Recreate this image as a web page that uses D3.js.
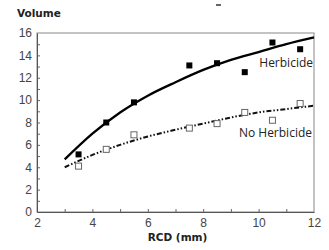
<!DOCTYPE html>
<html lang="en">
<head>
  <meta charset="UTF-8">
  <script src="https://cdnjs.cloudflare.com/ajax/libs/d3/7.8.5/d3.min.js"></script>
  <style>
    body { margin: 0; background: #fff; font-family: 'Liberation Sans', Arial, sans-serif; }
    .tick text { font-size: 12px; fill: #444; }
    .title { font-family: 'DejaVu Sans', sans-serif; font-size: 10.5px; font-weight: bold; fill: #222; }
  </style>
  <title>Volume vs RCD</title>
</head>
<body>
  <div id="chart"></div>
<script>
  // measured points
  const rcd = [3.5, 4.5, 5.5, 7.5, 8.5, 9.5, 10.5, 11.5];
  const herbicide = [5.15, 8.0, 9.8, 13.1, 13.3, 12.5, 15.15, 14.55];
  const noHerbicide = [4.1, 5.6, 6.9, 7.5, 7.9, 8.9, 8.2, 9.7];

  // fitted curves
  const fitX = [3, 4, 5, 6, 7, 8, 9, 10, 11, 12];
  const fitHerbicide = [4.7, 7.0, 8.9, 10.4, 11.6, 12.7, 13.6, 14.3, 15.0, 15.6];
  const fitNoHerbicide = [4.0, 5.1, 6.0, 6.75, 7.35, 7.9, 8.45, 8.9, 9.2, 9.5];

  const xTicks = [2, 4, 6, 8, 10, 12];
  const yTicks = [0, 2, 4, 6, 8, 10, 12, 14, 16];

  const W = 329, H = 250;
  const margin = { top: 33, right: 15, bottom: 38, left: 37 };

  const svg = d3.select("#chart").append("svg")
    .attr("width", W).attr("height", H);

  const x = d3.scaleLinear().domain([2, 12]).range([margin.left, W - margin.right]);
  const y = d3.scaleLinear().domain([0, 16]).range([H - margin.bottom, margin.top]);

  // frame
  svg.append("rect")
    .attr("x", x(2)).attr("y", y(16))
    .attr("width", x(12) - x(2)).attr("height", y(0) - y(16))
    .attr("fill", "none").attr("stroke", "#888").attr("stroke-width", 1);

  // minor ticks, pointing inward
  svg.append("g")
    .attr("transform", "translate(0," + y(0) + ")")
    .call(d3.axisTop(x).tickValues(d3.range(3, 12, 1)).tickSize(3).tickFormat(""))
    .call(g => g.select(".domain").remove())
    .selectAll("line").attr("stroke", "#666");
  svg.append("g")
    .attr("transform", "translate(" + x(2) + ",0)")
    .call(d3.axisRight(y).tickValues(d3.range(1, 16, 1)).tickSize(3).tickFormat(""))
    .call(g => g.select(".domain").remove())
    .selectAll("line").attr("stroke", "#666");

  // labelled axes
  const xAxis = svg.append("g")
    .attr("transform", "translate(0," + y(0) + ")")
    .call(d3.axisBottom(x).tickValues(xTicks).tickSize(0).tickPadding(6));
  xAxis.select(".domain").attr("stroke", "#555");

  const yAxis = svg.append("g")
    .attr("transform", "translate(" + x(2) + ",0)")
    .call(d3.axisLeft(y).tickValues(yTicks).tickSize(0).tickPadding(5));
  yAxis.select(".domain").attr("stroke", "#555");

  // axis titles
  svg.append("text").attr("class", "title")
    .attr("x", 17).attr("y", 17)
    .text("Volume");
  svg.append("text").attr("class", "title")
    .attr("x", (x(2) + x(12)) / 2 + 2).attr("y", 241)
    .attr("text-anchor", "middle")
    .text("RCD (mm)");

  // small stray mark at the top
  svg.append("line")
    .attr("x1", 216).attr("x2", 221).attr("y1", 5).attr("y2", 5)
    .attr("stroke", "#333").attr("stroke-width", 1.5);

  const line = d3.line().curve(d3.curveMonotoneX)
    .x(d => x(d[0])).y(d => y(d[1]));

  svg.append("path")
    .datum(d3.zip(fitX, fitNoHerbicide))
    .attr("d", line)
    .attr("fill", "none").attr("stroke", "#111").attr("stroke-width", 2)
    .attr("stroke-dasharray", "5,2,1.5,2,1.5,2");

  svg.append("path")
    .datum(d3.zip(fitX, fitHerbicide))
    .attr("d", line)
    .attr("fill", "none").attr("stroke", "#000").attr("stroke-width", 2.3);

  const s = 6;
  svg.selectAll(".open").data(d3.zip(rcd, noHerbicide)).enter().append("rect")
    .attr("class", "open")
    .attr("x", d => x(d[0]) - s / 2).attr("y", d => y(d[1]) - s / 2)
    .attr("width", s).attr("height", s)
    .attr("fill", "#fff").attr("stroke", "#666").attr("stroke-width", 1);

  svg.selectAll(".filled").data(d3.zip(rcd, herbicide)).enter().append("rect")
    .attr("class", "filled")
    .attr("x", d => x(d[0]) - s / 2).attr("y", d => y(d[1]) - s / 2)
    .attr("width", s).attr("height", s)
    .attr("fill", "#000");

  // series labels
  svg.append("text")
    .attr("x", 313).attr("y", 67).attr("text-anchor", "end")
    .attr("font-family", "'Open Sans', sans-serif").attr("font-size", 12).attr("fill", "#222")
    .text("Herbicide");
  svg.append("text")
    .attr("x", 312).attr("y", 137).attr("text-anchor", "end")
    .attr("font-family", "'Open Sans', sans-serif").attr("font-size", 12).attr("fill", "#222")
    .text("No Herbicide");
</script>
</body>
</html>
